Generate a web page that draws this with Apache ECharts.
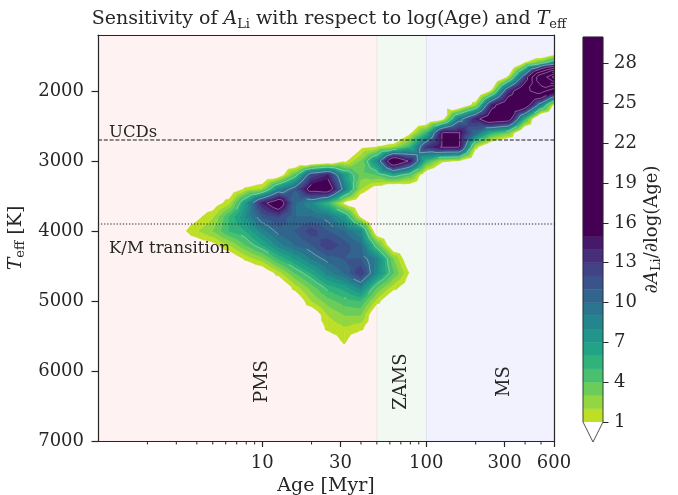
<!DOCTYPE html>
<html>
<head>
<meta charset="utf-8">
<script src="https://cdn.jsdelivr.net/npm/echarts@6/dist/echarts.min.js"></script>
<style>
  html, body { margin: 0; padding: 0; background: #fff; }
  #main { width: 678px; height: 495px; }
</style>
</head>
<body>
<div id="main"></div>
<script>
// grid of the sensitivity dA_Li/dlog(Age): columns are log10(Age/Myr), rows are Teff [K]
var logAge = [0.4, 0.5, 0.6, 0.7, 0.8, 0.9, 1.0, 1.1, 1.2, 1.3, 1.4, 1.5, 1.6,
              1.7, 1.8, 1.9, 2.0, 2.1, 2.2, 2.3, 2.4, 2.5, 2.6, 2.7, 2.8];
var teff = [1400, 1600, 1800, 2000, 2200, 2400, 2600, 2800, 3000, 3200, 3400, 3600,
            3800, 4000, 4200, 4400, 4600, 4800, 5000, 5200, 5400, 5600, 5800];
var sens = [
  [0,0,0,0,0,0,0,0,0,0,0,0,0,0,0,0,0,0,0,0,0,0,-3,-5,-4],
  [0,0,0,0,0,0,0,0,0,0,0,0,0,0,0,0,0,0,0,0,0,-3,1,4,8],
  [0,0,0,0,0,0,0,0,0,0,0,0,0,0,0,0,0,0,0,0,-3,1.2,12,30,45],
  [0,0,0,0,0,0,0,0,0,0,0,0,0,0,0,0,0,0,0,-3,1.3,13,19,22,15],
  [0,0,0,0,0,0,0,0,0,0,0,0,0,0,0,0,0,0,-2,2,14,18,18,8,-2],
  [0,0,0,0,0,0,0,0,0,0,0,0,0,0,0,0,-2,0,9,14,18,17,5,-4,0],
  [0,0,0,0,0,0,0,0,0,0,0,0,0,-2,-3,0.5,5,15.3,15.2,10,5,3,-3,0,0],
  [0,0,0,0,0,0,0,0,0,0,0,-2,0.5,1,2,5,13,15.3,15.2,1.5,-2,-3,0,0,0],
  [0,0,0,0,0,0,0,0,-2,-3,-2,0.5,3,8,19,14.5,5,1.2,0.8,-2,0,0,0,0,0],
  [0,0,0,0,0,-1,-1,-0.5,4,12,14,7,3.5,4,6,4,-1,-2,-1,0,0,0,0,0,0],
  [0,0,0,0,-0.5,1.2,2,8,11,16.5,17.5,9,2,0,-2,-1,0,0,0,0,0,0,0,0,0],
  [0,0,0,0,1.6,7,14,17.5,10,8,5,0.5,-1,-2,0,0,0,0,0,0,0,0,0,0,0],
  [0,0,0.6,1.8,5,8,11,12,10,10,9.5,7,0.7,-2,0,0,0,0,0,0,0,0,0,0,0],
  [0,0.5,1.8,3,5,6,8.5,10.5,11,12.5,11,10,8,-1,0,0,0,0,0,0,0,0,0,0,0],
  [0,0,0,0.5,2,4,6,8.5,10,11,12.8,11.5,10,4,-1,0,0,0,0,0,0,0,0,0,0],
  [0,0,0,0,-0.5,1.2,2.5,5,7,9,10.5,11,11,8.5,3,-0.5,0,0,0,0,0,0,0,0,0],
  [0,0,0,0,0,-1,-0.5,1.5,4,6,8.5,10,13,8,4,0.8,0,0,0,0,0,0,0,0,0],
  [0,0,0,0,0,0,0,-1,1.5,3.5,5.5,6.5,8.5,4,1.5,0,0,0,0,0,0,0,0,0,0],
  [0,0,0,0,0,0,0,0,-0.5,2,3.5,4.5,5,1.5,-1,0,0,0,0,0,0,0,0,0,0],
  [0,0,0,0,0,0,0,0,0,-0.5,2,3,3,-1,0,0,0,0,0,0,0,0,0,0,0],
  [0,0,0,0,0,0,0,0,0,0,1.2,1.8,1.2,0,0,0,0,0,0,0,0,0,0,0,0],
  [0,0,0,0,0,0,0,0,0,0,-0.5,1.1,-1,0,0,0,0,0,0,0,0,0,0,0,0],
  [0,0,0,0,0,0,0,0,0,0,0,-1,0,0,0,0,0,0,0,0,0,0,0,0,0]
];
var levels = [1, 2, 3, 4, 5, 6, 7, 8, 9, 10, 11, 12, 13, 14, 15];
var levelTop = 30;
var lineLevels = [5, 10, 15, 20, 25, 30, 35, 40];
var zoneEdges = [1, 50, 100, 600];
var zoneNames = ['PMS', 'ZAMS', 'MS'];
var zoneLabelAge = [10, 70, 300];
var refTeff = [2700, 3900];
var refNames = ['UCDs', 'K/M transition'];
var xTickAges = [10, 30, 100, 300, 600];
var xMinorAges = [2, 3, 4, 5, 6, 7, 8, 9, 20, 40, 50, 60, 70, 80, 90, 200, 400, 500];
var yTicks = [2000, 3000, 4000, 5000, 6000, 7000];
var cbarTicks = [1, 4, 7, 10, 13, 16, 19, 22, 25, 28];

var ink = '#262626';
var font = 'DejaVu Serif';
function log10(v) { return Math.log(v) / Math.LN10; }

var viridis = ['#440154', '#482475', '#414487', '#355f8d', '#2a788e', '#21918c',
               '#22a884', '#44bf70', '#7ad151', '#bddf26', '#fde725'];
function rgb(h) { return [1, 3, 5].map(function (k) { return parseInt(h.substr(k, 2), 16); }); }
function cmap(t) {
  t = Math.max(0, Math.min(1, t));
  var f = t * 10, i = Math.min(9, Math.floor(f)), u = f - i;
  var a = rgb(viridis[i]), b = rgb(viridis[i + 1]);
  return 'rgb(' + [0, 1, 2].map(function (k) { return Math.round(a[k] + (b[k] - a[k]) * u); }).join(',') + ')';
}
var bandColors = levels.map(function (lev, k) {
  return k === levels.length - 1 ? cmap(0) : cmap(0.9 - k * 0.064);
});

// cells of the grid that reach the lowest level
var cells = [];
for (var j = 0; j < teff.length - 1; j++) {
  for (var i = 0; i < logAge.length - 1; i++) {
    var v = [sens[j][i], sens[j][i + 1], sens[j + 1][i], sens[j + 1][i + 1]];
    if (Math.max.apply(null, v) < levels[0]) continue;
    cells.push([i, j]);
  }
}

function cellTris(api, i, j) {
  var c = [[i, j], [i + 1, j], [i + 1, j + 1], [i, j + 1]].map(function (ij) {
    var p = api.coord([logAge[ij[0]], teff[ij[1]]]);
    return [p[0], p[1], sens[ij[1]][ij[0]]];
  });
  var m = [0, 1, 2].map(function (k) { return (c[0][k] + c[1][k] + c[2][k] + c[3][k]) / 4; });
  return [[c[0], c[1], m], [c[1], c[2], m], [c[2], c[3], m], [c[3], c[0], m]];
}

function clipTri(tri, lev) {
  var out = [];
  for (var a = 0; a < 3; a++) {
    var p = tri[a], q = tri[(a + 1) % 3];
    var pin = p[2] >= lev, qin = q[2] >= lev;
    if (pin) out.push([p[0], p[1]]);
    if (pin !== qin) {
      var t = (lev - p[2]) / (q[2] - p[2]);
      out.push([p[0] + t * (q[0] - p[0]), p[1] + t * (q[1] - p[1])]);
    }
  }
  return out;
}

// one item per filled level, drawn in ascending order
function renderFill(params, api) {
  var k = api.value(2);
  var lev = levels[k];
  var children = [];
  cells.forEach(function (c) {
    cellTris(api, c[0], c[1]).forEach(function (tri) {
      var poly = clipTri(tri, lev);
      if (poly.length > 2) {
        children.push({
          type: 'polygon', silent: true, shape: { points: poly },
          style: { fill: bandColors[k], stroke: bandColors[k], lineWidth: 0.5 }
        });
      }
    });
  });
  return { type: 'group', children: children };
}

function renderLines(params, api) {
  var lev = lineLevels[api.value(2)];
  var children = [];
  cells.forEach(function (c) {
    cellTris(api, c[0], c[1]).forEach(function (tri) {
      var seg = [];
      for (var a = 0; a < 3; a++) {
        var p = tri[a], q = tri[(a + 1) % 3];
        if ((p[2] - lev) * (q[2] - lev) < 0) {
          var t = (lev - p[2]) / (q[2] - p[2]);
          seg.push([p[0] + t * (q[0] - p[0]), p[1] + t * (q[1] - p[1])]);
        }
      }
      if (seg.length === 2) {
        children.push({
          type: 'line', silent: true,
          shape: { x1: seg[0][0], y1: seg[0][1], x2: seg[1][0], y2: seg[1][1] },
          style: { stroke: 'rgba(255,255,255,0.5)', lineWidth: 0.7 }
        });
      }
    });
  });
  return { type: 'group', children: children };
}

var zoneFill = ['rgba(255,0,0,0.05)', 'rgba(0,128,0,0.05)', 'rgba(0,0,255,0.05)'];
var zoneData = zoneNames.map(function (n, k) {
  return [log10(zoneEdges[k]), 4000, log10(zoneEdges[k + 1]), k];
});
function renderZone(params, api) {
  var cs = params.coordSys;
  var k = api.value(3);
  var x0 = api.coord([api.value(0), 4000])[0];
  var x1 = api.coord([api.value(2), 4000])[0];
  var lp = api.coord([log10(zoneLabelAge[k]), 6150]);
  return {
    type: 'group', children: [
      { type: 'rect', silent: true, shape: { x: x0, y: cs.y, width: x1 - x0, height: cs.height },
        style: { fill: zoneFill[k], stroke: zoneFill[k], lineWidth: 1 } },
      { type: 'text', silent: true, x: lp[0], y: lp[1], rotation: Math.PI / 2,
        style: { text: zoneNames[k], fontFamily: font, fontSize: 18, fill: ink,
                 align: 'center', verticalAlign: 'middle' } }
    ]
  };
}

var refDash = [[4, 1.8], [1.2, 1.9]];
var refDy = [-7, 25];
function renderRef(params, api) {
  var cs = params.coordSys;
  var k = api.value(2);
  var y = api.coord([0, api.value(1)])[1];
  return {
    type: 'group', children: [
      { type: 'line', silent: true, shape: { x1: cs.x, y1: y, x2: cs.x + cs.width, y2: y },
        style: { stroke: '#1a1a1a', lineWidth: 1.1, lineDash: refDash[k] } },
      { type: 'text', silent: true, x: cs.x + 11, y: y + refDy[k],
        style: { text: refNames[k], fontFamily: font, fontSize: 16.5, fill: ink,
                 align: 'left', verticalAlign: 'middle' } }
    ]
  };
}

// short log-axis minor ticks under the plot
function renderMinorTick(params, api) {
  var p = api.coord([api.value(0), api.value(1)]);
  return { type: 'line', silent: true,
    shape: { x1: p[0], y1: p[1], x2: p[0], y2: p[1] + 3.5 },
    style: { stroke: ink, lineWidth: 1 } };
}

var bandData = levels.map(function (lev, k) {
  return [0.5, lev, k < levels.length - 1 ? levels[k + 1] : levelTop, k];
});
function renderBand(params, api) {
  var k = api.value(3);
  var p0 = api.coord([0, api.value(2)]);
  var p1 = api.coord([1, api.value(1)]);
  return { type: 'rect', silent: true,
    shape: { x: p0[0], y: p0[1], width: p1[0] - p0[0], height: p1[1] - p0[1] },
    style: { fill: bandColors[k], stroke: bandColors[k], lineWidth: 0.5 } };
}
function renderCbarFrame(params, api) {
  var b0 = api.coord([0, levels[0]]), b1 = api.coord([1, levels[0]]);
  var t0 = api.coord([0, levelTop]), t1 = api.coord([1, levelTop]);
  var tip = [(b0[0] + b1[0]) / 2, b0[1] + 20];
  return {
    type: 'group', children: [
      { type: 'polygon', silent: true, shape: { points: [b0, b1, tip] }, style: { fill: '#fff' } },
      { type: 'polyline', silent: true, shape: { points: [t0, t1, b1, tip, b0, t0] },
        style: { fill: null, stroke: ink, lineWidth: 0.8 } }
    ]
  };
}

function subRich(size) {
  return {
    i: { fontFamily: font, fontStyle: 'italic', fontSize: size, color: ink },
    s: { fontFamily: font, fontSize: Math.round(size * 0.7), color: ink, padding: [Math.round(size / 2), 0, 0, 0] }
  };
}
var axisLineStyle = { color: ink, width: 1.2 };
var tickLabel = { color: ink, fontFamily: font, fontSize: 18 };
var plain = function (v) { return String(v); };

var chart = echarts.init(document.getElementById('main'));
chart.setOption({
  animation: false,
  textStyle: { fontFamily: font },
  title: {
    text: 'Sensitivity of {i|A}{s|Li} with respect to log(Age) and {i|T}{s|eff}',
    left: 324, top: 3, textAlign: 'center',
    textStyle: { fontFamily: font, fontSize: 19, fontWeight: 'normal', color: ink, rich: subRich(19) }
  },
  grid: [
    { left: 98, top: 35, width: 456, height: 406, outerBoundsMode: 'none', containLabel: false },
    { left: 583, top: 37, width: 20, height: 385, outerBoundsMode: 'none', containLabel: false }
  ],
  xAxis: [
    { type: 'value', gridIndex: 0, position: 'bottom', min: 0, max: log10(600), z: 10,
      axisLine: { onZero: false, lineStyle: axisLineStyle },
      axisTick: { customValues: xTickAges.map(log10), length: 6, lineStyle: axisLineStyle },
      axisLabel: { customValues: xTickAges.map(log10), margin: 13,
        formatter: function (v) { return String(Math.round(Math.pow(10, v))); }, ...tickLabel },
      splitLine: { show: false },
      name: 'Age [Myr]', nameLocation: 'middle', nameGap: 29,
      nameTextStyle: { color: ink, fontFamily: font, fontSize: 19 } },
    { type: 'value', gridIndex: 0, position: 'top', min: 0, max: log10(600), z: 10,
      axisLine: { onZero: false, lineStyle: axisLineStyle },
      axisTick: { show: false }, axisLabel: { show: false }, splitLine: { show: false } },
    { type: 'value', gridIndex: 1, min: 0, max: 1, show: false }
  ],
  yAxis: [
    { type: 'value', gridIndex: 0, position: 'left', inverse: true, min: 1200, max: 7000, z: 10,
      axisLine: { onZero: false, lineStyle: axisLineStyle },
      axisTick: { customValues: yTicks, length: 6.5, lineStyle: axisLineStyle },
      axisLabel: { customValues: yTicks, margin: 14, formatter: plain, ...tickLabel },
      splitLine: { show: false },
      name: '{i|T}{s|eff} [K]', nameLocation: 'middle', nameRotate: 90, nameGap: 63,
      nameTextStyle: { color: ink, fontFamily: font, fontSize: 19, rich: subRich(19) } },
    { type: 'value', gridIndex: 0, position: 'right', inverse: true, min: 1200, max: 7000, z: 10,
      axisLine: { onZero: false, lineStyle: axisLineStyle },
      axisTick: { show: false }, axisLabel: { show: false }, splitLine: { show: false } },
    { type: 'value', gridIndex: 1, min: 1, max: levelTop, position: 'right',
      axisLine: { show: false, onZero: false },
      axisTick: { customValues: cbarTicks, length: 5.5, lineStyle: { color: ink, width: 1 } },
      axisLabel: { customValues: cbarTicks, margin: 11, formatter: plain, ...tickLabel },
      splitLine: { show: false },
      name: '\u2202{i|A}{s|Li}/\u2202log(Age)', nameLocation: 'middle', nameRotate: 90, nameGap: 38,
      nameTextStyle: { color: ink, fontFamily: font, fontSize: 18, rich: subRich(18) } }
  ],
  series: [
    { type: 'custom', name: 'zones', xAxisIndex: 0, yAxisIndex: 0, z: 1,
      data: zoneData, encode: { x: [0, 2], y: 1 }, renderItem: renderZone },
    { type: 'custom', name: 'sensitivity', xAxisIndex: 0, yAxisIndex: 0, z: 2, clip: true,
      data: levels.map(function (lev, k) { return [1, 4000, k]; }),
      encode: { x: 0, y: 1 }, renderItem: renderFill },
    { type: 'custom', name: 'contours', xAxisIndex: 0, yAxisIndex: 0, z: 3, clip: true,
      data: lineLevels.map(function (lev, k) { return [1, 4000, k]; }),
      encode: { x: 0, y: 1 }, renderItem: renderLines },
    { type: 'custom', name: 'references', xAxisIndex: 0, yAxisIndex: 0, z: 4,
      data: refTeff.map(function (t, k) { return [0, t, k]; }), encode: { x: 0, y: 1 },
      renderItem: renderRef },
    { type: 'custom', name: 'minor ticks', xAxisIndex: 0, yAxisIndex: 0, z: 10,
      data: xMinorAges.map(function (a) { return [log10(a), 7000]; }), encode: { x: 0, y: 1 },
      renderItem: renderMinorTick },
    { type: 'custom', name: 'colorbar', xAxisIndex: 2, yAxisIndex: 2, z: 2,
      data: bandData, encode: { x: 0, y: [1, 2] }, renderItem: renderBand },
    { type: 'custom', name: 'colorbar frame', xAxisIndex: 2, yAxisIndex: 2, z: 3,
      data: [[0.5, levels[0]]], encode: { x: 0, y: 1 }, renderItem: renderCbarFrame }
  ]
});
</script>
</body>
</html>
